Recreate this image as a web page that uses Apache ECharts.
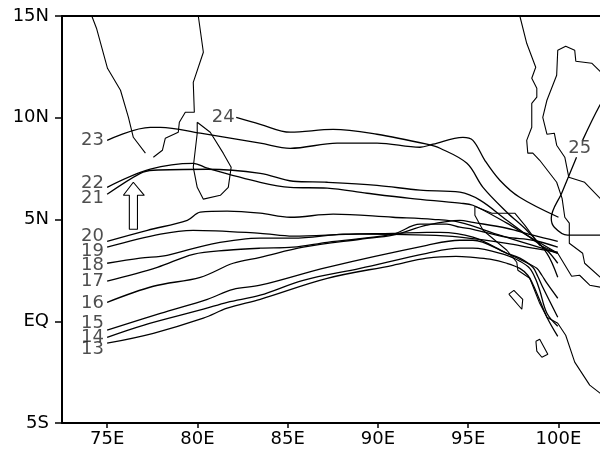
<!DOCTYPE html>
<html><head><meta charset="utf-8">
<style>html,body{margin:0;padding:0;background:#fff}#c{width:600px;height:453px}</style>
<script src="https://cdn.jsdelivr.net/npm/echarts@6/dist/echarts.min.js"></script>
</head><body><div id="c"></div>
<script>
const xTicks=[75,80,85,90,95,100];
const xTickLabels=['75E','80E','85E','90E','95E','100E'];
const yTicks=[-5,0,5,10,15];
const yTickLabels=['5S','EQ','5N','10N','15N'];

const t13=[[75,-1.08],[77.56,-0.59],[80.33,0.15],[81.65,0.64],[83.48,1.08],[87.19,2.11],[90.83,2.75],[92.71,3.1],[94.32,3.19],[95.26,3.14],[96.2,3.05],[97.14,2.85],[97.86,2.6],[98.3,2.26],[98.58,1.82],[98.8,1.38],[99.36,0.2],[99.96,-0.74]];
const t14=[[75,-0.79],[77,-0.2],[80.33,0.59],[81.65,0.93],[83.48,1.28],[85.86,2.01],[89.01,2.6],[92.71,3.34],[94.54,3.59],[95.26,3.59],[97.14,3.24],[97.86,2.95],[98.41,2.6],[98.74,2.06],[98.96,1.52],[99.36,0.39],[99.96,-0.25]];
const t15=[[75,-0.44],[77.95,0.39],[80.55,1.08],[81.98,1.57],[83.48,1.77],[87.19,2.65],[92.71,3.73],[94.54,3.98],[95.26,3.98],[97.14,3.34],[97.86,3.1],[98.58,2.65],[98.85,2.21],[99.13,1.67],[99.96,0.2]];
const t16=[[75,0.93],[77.56,1.72],[80.16,2.16],[81.98,2.85],[83.48,3.14],[85.86,3.64],[89.01,4.03],[90.83,4.23],[92.71,4.72],[94.54,4.96],[95.26,4.86],[97.14,4.57],[98.58,4.23],[99.96,3.93]];
const t17=[[75,1.97],[77.78,2.65],[79.77,3.29],[81.65,3.49],[83.48,3.59],[85.3,3.64],[87.19,3.88],[90.83,4.28],[92.33,4.77],[93.82,4.77],[94.54,4.62],[95.26,4.52],[97.14,4.13],[98.58,3.98],[99.96,3.64]];
const t18=[[75,2.85],[76.83,3.1],[78.32,3.24],[80.71,3.78],[83.48,4.08],[85.3,4.08],[88.07,4.28],[90.83,4.32],[92.71,4.37],[93.44,4.37],[95.26,4.13],[97.14,3.34],[98.07,2.95],[98.8,2.6],[99.08,2.26],[99.36,1.87],[99.96,1.13]];
const t19=[[75,3.64],[77.95,4.28],[79.77,4.47],[83.48,4.32],[85.3,4.18],[89.01,4.28],[92.71,4.23],[94.54,4.13],[97.14,3.83],[98.58,3.59],[99.96,3.39]];
const t20=[[75,3.93],[77.23,4.47],[79.44,4.96],[80.16,5.36],[81.65,5.41],[83.48,5.31],[85.14,5.11],[87.52,5.26],[90.83,5.11],[93.04,5.01],[94.54,4.86],[96.75,4.23],[98.58,3.73],[99.96,3.34]];
const t21=[[75,6.24],[76.84,7.27],[77.56,7.42],[80.55,7.47],[83.48,7.27],[85.3,6.88],[87.19,6.83],[89.95,6.68],[92.33,6.44],[94.54,6.34],[95.65,5.95],[97.14,4.96],[98.41,4.13],[99.36,3.49],[99.96,2.85]];
const t22=[[75,6.58],[77.39,7.47],[79.77,7.76],[80.55,7.52],[83.48,6.83],[85.14,6.58],[87.19,6.54],[89.4,6.29],[91.78,6.04],[94.54,5.8],[95.26,5.7],[97.14,4.82],[98.24,4.23],[99.96,3.34]];
const t23=[[75,8.89],[77.39,9.53],[77.95,9.53],[80.16,9.24],[83.48,8.75],[85.14,8.5],[87.74,8.75],[89.95,8.75],[92.33,8.55],[93.05,8.7],[94.71,9.04],[95.26,8.89],[95.92,7.91],[96.75,6.93],[97.85,6.09],[100,5.11]];
const t24=[[82.15,10.02],[83.48,9.68],[85.14,9.29],[87.52,9.43],[89.95,9.19],[92.71,8.7],[93.44,8.5],[94.93,7.76],[95.82,6.58],[97.14,5.36],[98.24,4.47],[99.36,3.34],[99.96,2.16]];
const t25a=[[103,4.23],[100.5,4.23],[99.77,4.62],[99.6,5.06],[100.2,6.34],[101,8.06]];
const t25b=[[101.34,8.9],[102.29,10.61],[103,11.6]];
const tracks=[t13,t14,t15,t16,t17,t18,t19,t20,t21,t22,t23,t24,t25a,t25b];

const indiaW=[[74.15,15],[74.41,14.4],[75.02,12.43],[75.74,11.35],[76.18,10.02],[76.45,9.04],[77.12,8.26]];
const indiaE=[[80.05,15],[80.33,13.22],[79.77,11.74],[79.83,10.27],[79.33,10.27],[79,9.78],[78.94,9.29],[78.22,8.99],[78.06,8.4],[77.56,8.06]];
const sriLanka=[[79.99,9.78],[80.71,9.29],[81.43,8.26],[81.87,7.57],[81.71,6.58],[81.27,6.19],[80.33,6],[79.99,6.58],[79.77,7.57],[79.99,9.24],[79.99,9.78]];
const myanmar=[[97.86,15],[98.24,13.66],[98.74,12.48],[98.52,11.94],[98.8,11.45],[98.8,11.01],[98.52,10.71],[98.52,9.53],[98.24,8.89],[98.3,8.26],[98.58,8.26],[98.96,7.91],[99.9,6.83],[100.2,6.04],[100.35,5.11],[100.6,4.82],[100.6,3.83],[101.34,3.34],[101.45,2.85],[102.4,2.1]];
const gulf=[[102.4,12.2],[101.84,12.68],[100.96,12.78],[100.9,13.32],[100.4,13.51],[99.96,13.32],[99.9,12.09],[99.36,10.86],[99.13,10.02],[99.36,9.19],[99.77,9.24],[99.9,8.65],[100.35,8.06],[100.57,7.08],[101.45,6.83],[102.4,5.95]];
const sumatraW=[[95.37,5.65],[95.37,5.21],[95.82,4.47],[97.14,3.49],[97.69,2.9],[97.75,2.51],[98.41,2.11],[98.96,0.88],[99.36,0.2],[99.96,-0.1],[100.4,-0.69],[100.9,-2.01],[101.73,-3.14],[102.4,-3.6]];
const sumatraN=[[95.37,5.65],[96.31,5.31],[97.58,5.31],[98.13,4.72],[98.96,3.73],[99.96,3.34],[100.73,2.21],[101.17,2.26],[101.73,1.77],[102.4,1.66]];
const nias=[[97.25,1.33],[97.53,1.52],[98.02,1.08],[97.97,0.59],[97.25,1.33]];
const mentawai=[[98.75,-0.98],[98.96,-0.88],[99.41,-1.62],[99.08,-1.77],[98.8,-1.47],[98.75,-0.98]];
const coasts=[indiaW,indiaE,sriLanka,myanmar,gulf,sumatraW,sumatraN,nias,mentawai];

const arrow=[[76.45,6.83],[77.06,6.19],[76.68,6.19],[76.68,4.52],[76.23,4.52],[76.23,6.19],[75.9,6.19],[76.45,6.83]];

const trackLabels=[[74.19,-1.38,'13'],[74.19,-0.79,'14'],[74.19,-0.1,'15'],[74.19,0.88,'16'],[74.19,1.97,'17'],[74.19,2.75,'18'],[74.19,3.44,'19'],[74.19,4.18,'20'],[74.19,6.04,'21'],[74.19,6.78,'22'],[74.19,8.89,'23'],[81.43,10.02,'24'],[101.18,8.5,'25']];

const series=[];
coasts.forEach(c=>series.push({type:'line',data:c,showSymbol:false,silent:true,lineStyle:{color:'#000',width:1.1}}));
tracks.forEach(t=>series.push({type:'line',data:t,smooth:0.35,showSymbol:false,silent:true,lineStyle:{color:'#000',width:1.3}}));
series.push({type:'line',data:arrow,showSymbol:false,silent:true,lineStyle:{color:'#000',width:1.1}});
series.push({type:'scatter',data:trackLabels,symbolSize:0,silent:true,
  label:{show:true,position:'inside',formatter:p=>p.value[2],fontFamily:'DejaVu Sans',fontSize:18,fontWeight:'normal',color:'#222'}});

const axisFont={fontFamily:'DejaVu Sans',fontSize:18,color:'#000'};
const axisLine={show:true,onZero:false,lineStyle:{color:'#000',width:2}};
const chart=echarts.init(document.getElementById('c'),null,{renderer:'canvas'});
chart.setOption({
  animation:false,
  grid:{left:62,right:0,top:16,bottom:30},
  xAxis:[{type:'value',min:72.5,max:102.3,position:'bottom',
    axisLine:axisLine,splitLine:{show:false},
    axisTick:{show:true,length:5,customValues:xTicks,lineStyle:{color:'#000',width:1.5}},
    axisLabel:{show:true,customValues:xTicks,margin:7,...axisFont,
      formatter:v=>xTickLabels[xTicks.indexOf(v)]}},
    {type:'value',min:72.5,max:102.3,position:'top',axisLine:axisLine,splitLine:{show:false},
    axisTick:{show:false},axisLabel:{show:false}}],
  yAxis:{type:'value',min:-5,max:15,interval:5,position:'left',
    axisLine:axisLine,splitLine:{show:false},
    axisTick:{show:true,length:7,lineStyle:{color:'#000',width:1.5}},
    axisLabel:{show:true,margin:13,...axisFont,
      formatter:v=>yTickLabels[yTicks.indexOf(v)]}},
  series:series
});
</script></body></html>
